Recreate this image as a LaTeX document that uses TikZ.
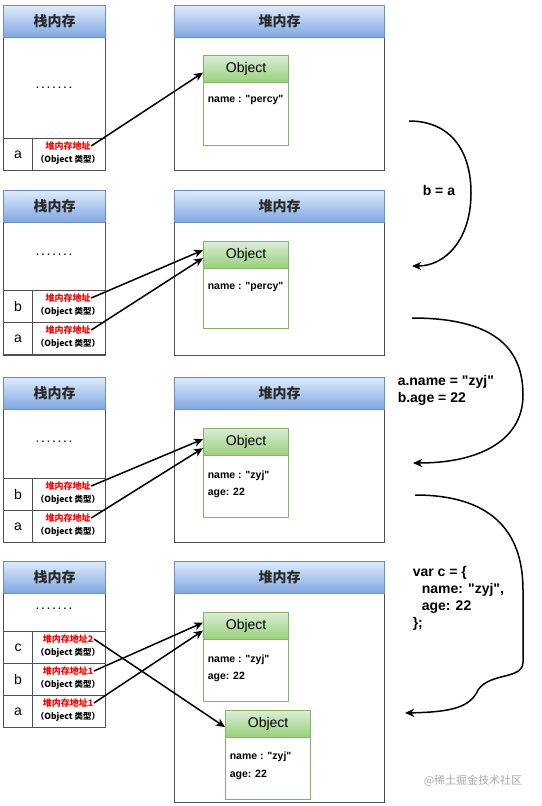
\documentclass[tikz,border=0pt]{standalone}
\usepackage{fontspec}
\setmainfont{Liberation Sans}[Ligatures=TeXOff]
\newfontfamily\cjk{Noto Sans CJK SC}
\usepackage{tikz}
\usetikzlibrary{arrows.meta}
\definecolor{frame_gray}{RGB}{80,80,80}
\definecolor{hdr_top}{RGB}{222,235,252}
\definecolor{hdr_bot}{RGB}{126,166,224}
\definecolor{hdr_edge}{RGB}{108,142,191}
\definecolor{hdr_text}{RGB}{40,40,40}
\definecolor{obj_top}{RGB}{218,236,214}
\definecolor{obj_bot}{RGB}{151,208,119}
\definecolor{obj_edge}{RGB}{130,179,102}
\definecolor{addr_red}{RGB}{250,0,0}
\definecolor{mark_gray}{RGB}{170,170,170}
\newcommand{\dotrow}{.\kern1.6pt.\kern1.6pt.\kern1.6pt.\kern1.6pt.\kern1.6pt.\kern1.6pt.}

\begin{document}
\begin{tikzpicture}[x=1pt,y=-1pt,>={Stealth[length=9pt,width=8pt,inset=2.5pt]},line width=1.5pt]
    \tikzstyle{cell}=[draw=frame_gray, line width=1.2pt, anchor=north west, inner sep=0pt, minimum height=32pt, font=\fontsize{14}{16}\selectfont]
    \tikzstyle{hdr}=[style=cell, draw=hdr_edge, top color=hdr_top, bottom color=hdr_bot, font=\cjk\bfseries\fontsize{14}{16}\selectfont, text=hdr_text]
    \tikzstyle{obj}=[draw=obj_edge, line width=1.2pt, anchor=north west, inner sep=0pt, fill=white, minimum width=85pt]
    \tikzstyle{objhdr}=[style=obj, top color=obj_top, bottom color=obj_bot, minimum height=27pt, font=\fontsize{14}{16}\selectfont]
    \tikzstyle{addr}=[inner sep=0pt, text=addr_red, font=\cjk\bfseries\fontsize{9}{10}\selectfont]
    \tikzstyle{kind}=[inner sep=0pt, font=\cjk\bfseries\fontsize{8.5}{10}\selectfont]
    \tikzstyle{field}=[anchor=west, inner sep=0pt, font=\bfseries\fontsize{10.5}{12}\selectfont]
    \tikzstyle{dots}=[font=\fontsize{14}{16}\selectfont]
    \tikzstyle{code}=[anchor=north west, align=left, inner sep=0pt, font=\bfseries\fontsize{14}{17}\selectfont]

    \useasboundingbox (0,0) rectangle (541,806);

    % ---- 1
    \node[cell, minimum width=102pt, minimum height=165pt] (s1) at (3,5) {};
    \node[hdr, minimum width=102pt] (s1h) at (3,5) {栈内存};
    \node[dots] (d1) at (54,88) {\dotrow};
    \node[cell, minimum width=29pt] (s1a) at (3,138) {a};
    \node[cell, minimum width=73pt] (s1ac) at (32,138) {};
    \node[addr] (p1a) at (68,146) {堆内存地址};
    \node[kind] (k1a) at (68,160) {（Object 类型）};
    \node[cell, minimum width=210pt, minimum height=165pt] (h1) at (174,5) {};
    \node[hdr, minimum width=210pt] (h1h) at (174,5) {堆内存};
    \node[obj, minimum height=90pt] (o1) at (203,55) {};
    \node[objhdr] (o1h) at (203,55) {Object};
    \node[field] (f1n) at (207,100) {name : "percy"};

    % ---- 2
    \node[cell, minimum width=102pt, minimum height=165pt] (s2) at (3,190) {};
    \node[hdr, minimum width=102pt] (s2h) at (3,190) {栈内存};
    \node[dots] (d2) at (54,255) {\dotrow};
    \node[cell, minimum width=29pt] (s2b) at (3,290) {b};
    \node[cell, minimum width=73pt] (s2bc) at (32,290) {};
    \node[addr] (p2b) at (68,298) {堆内存地址};
    \node[kind] (k2b) at (68,312) {（Object 类型）};
    \node[cell, minimum width=29pt] (s2a) at (3,322) {a};
    \node[cell, minimum width=73pt] (s2ac) at (32,322) {};
    \node[addr] (p2a) at (68,330) {堆内存地址};
    \node[kind] (k2a) at (68,344) {（Object 类型）};
    \node[cell, minimum width=210pt, minimum height=165pt] (h2) at (174,190) {};
    \node[hdr, minimum width=210pt] (h2h) at (174,190) {堆内存};
    \node[obj, minimum height=87pt] (o2) at (203,241) {};
    \node[objhdr] (o2h) at (203,241) {Object};
    \node[field] (f2n) at (207,287) {name : "percy"};

    % ---- 3
    \node[cell, minimum width=102pt, minimum height=165pt] (s3) at (3,377) {};
    \node[hdr, minimum width=102pt] (s3h) at (3,377) {栈内存};
    \node[dots] (d3) at (54,442) {\dotrow};
    \node[cell, minimum width=29pt] (s3b) at (3,478) {b};
    \node[cell, minimum width=73pt] (s3bc) at (32,478) {};
    \node[addr] (p3b) at (68,486) {堆内存地址};
    \node[kind] (k3b) at (68,500) {（Object 类型）};
    \node[cell, minimum width=29pt] (s3a) at (3,510) {a};
    \node[cell, minimum width=73pt] (s3ac) at (32,510) {};
    \node[addr] (p3a) at (68,518) {堆内存地址};
    \node[kind] (k3a) at (68,532) {（Object 类型）};
    \node[cell, minimum width=210pt, minimum height=165pt] (h3) at (174,377) {};
    \node[hdr, minimum width=210pt] (h3h) at (174,377) {堆内存};
    \node[obj, minimum height=89pt] (o3) at (203,428) {};
    \node[objhdr] (o3h) at (203,428) {Object};
    \node[field] (f3n) at (207,476) {name : "zyj"};
    \node[field] (f3a) at (207,493) {age: 22};

    % ---- 4
    \node[cell, minimum width=102pt, minimum height=166pt] (s4) at (3,561) {};
    \node[hdr, minimum width=102pt] (s4h) at (3,561) {栈内存};
    \node[dots] (d4) at (54,609) {\dotrow};
    \node[cell, minimum width=29pt] (s4c) at (3,631) {c};
    \node[cell, minimum width=73pt] (s4cc) at (32,631) {};
    \node[addr] (p4c) at (68,639) {堆内存地址2};
    \node[kind] (k4c) at (68,653) {（Object 类型）};
    \node[cell, minimum width=29pt] (s4b) at (3,663) {b};
    \node[cell, minimum width=73pt] (s4bc) at (32,663) {};
    \node[addr] (p4b) at (68,671) {堆内存地址1};
    \node[kind] (k4b) at (68,685) {（Object 类型）};
    \node[cell, minimum width=29pt] (s4a) at (3,695) {a};
    \node[cell, minimum width=73pt] (s4ac) at (32,695) {};
    \node[addr] (p4a) at (68,703) {堆内存地址1};
    \node[kind] (k4a) at (68,717) {（Object 类型）};
    \node[cell, minimum width=210pt, minimum height=241pt] (h4) at (174,561) {};
    \node[hdr, minimum width=210pt] (h4h) at (174,561) {堆内存};
    \node[obj, minimum height=89pt] (o4) at (203,612) {};
    \node[objhdr] (o4h) at (203,612) {Object};
    \node[field] (f4n) at (207,660) {name : "zyj"};
    \node[field] (f4a) at (207,677) {age: 22};
    \node[obj, minimum height=89pt] (o5) at (225,710) {};
    \node[objhdr] (o5h) at (225,710) {Object};
    \node[field] (f5n) at (229,757) {name : "zyj"};
    \node[field] (f5a) at (229,775) {age: 22};

    % ---- steps
    \coordinate (t1s) at (409,121);
    \coordinate (t1e) at (412,266);
    \coordinate (t2s) at (412,318);
    \coordinate (t2e) at (413,463);
    \coordinate (t3s) at (415,495);
    \coordinate (t3e) at (405,713);
    \node[code] (c1) at (422,185) {b = a};
    \node[code] (c2) at (397,375) {a.name = "zyj"\\b.age = 22};
    \node[code] (c3) at (412,566) {var c = \{\\\hspace{9pt}name: "zyj",\\\hspace{9pt}age: 22\\\};};
    \node[text=mark_gray, font=\cjk\fontsize{11}{13}\selectfont] (wm) at (473,781) {@稀土掘金技术社区};

    \path[->]
     (p1a.east) edge ([yshift=-3.5pt]o1h.west)
     (p2b.east) edge ([yshift=5pt]o2h.west)
     (p2a.east) edge ([yshift=-3pt]o2h.west)
     (p3b.east) edge ([yshift=3pt]o3h.west)
     (p3a.east) edge ([yshift=-6pt]o3h.west)
     (p4c.east) edge ([yshift=-3pt]o5h.west)
     (p4b.east) edge ([yshift=3.5pt]o4h.west)
     (p4a.east) edge ([yshift=-4.5pt]o4h.west)
     ;
    \draw[->] (t1s) .. controls (450,121) and (471,150) .. (471,193)
      .. controls (471,240) and (445,266) .. (t1e);
    \draw[->] (t2s) .. controls (490,318) and (523,345) .. (523,395)
      .. controls (523,440) and (480,463) .. (t2e);
    \draw[->] (t3s) .. controls (490,495) and (523,530) .. (523,590) -- (523,662)
      .. controls (523,680) and (490,672) .. (478,690)
      .. controls (470,708) and (450,712) .. (t3e);
\end{tikzpicture}
\end{document}
